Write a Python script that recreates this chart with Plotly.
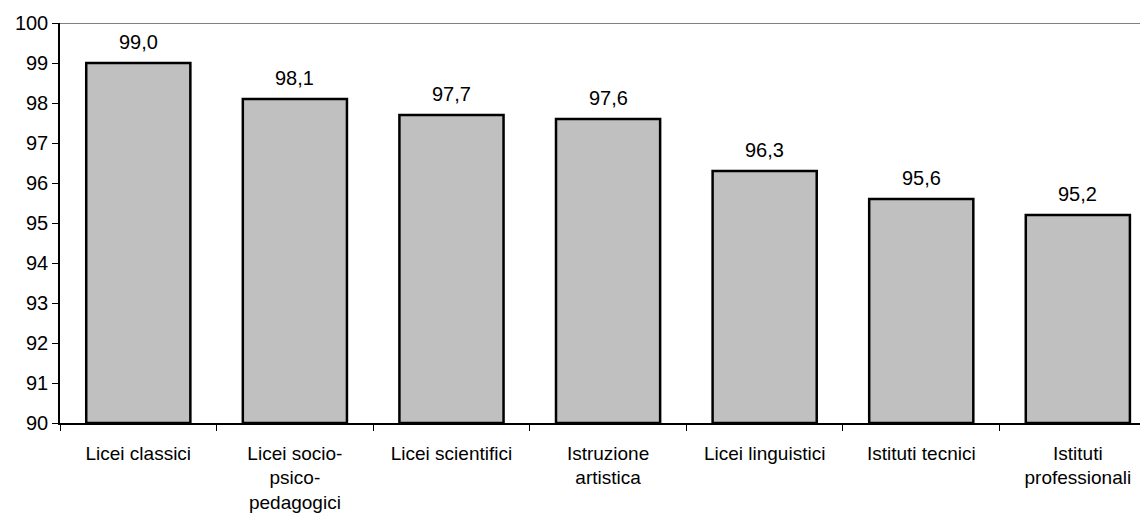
import plotly.graph_objects as go

categories = ["Licei classici", "Licei socio-<br>psico-<br>pedagogici", "Licei scientifici",
              "Istruzione<br>artistica", "Licei linguistici", "Istituti tecnici",
              "Istituti<br>professionali"]
values = [99.0, 98.1, 97.7, 97.6, 96.3, 95.6, 95.2]
y_ticks = list(range(90, 101))
base_value = 90

fig = go.Figure()
fig.add_trace(go.Bar(
    x=categories, y=[v - base_value for v in values], base=base_value, width=0.665,
    marker=dict(color="#C0C0C0", line=dict(color="black", width=2.5)),
    hoverinfo="skip",
))

for c, v in zip(categories, values):
    fig.add_annotation(x=c, y=v, text=f"{v:.1f}".replace(".", ","), showarrow=False,
                       yanchor="bottom", yshift=8, font=dict(size=20, color="black"))

fig.add_shape(type="line", xref="paper", yref="y", x0=0, x1=1, y0=100, y1=100,
              line=dict(color="#808080", width=2))

fig.update_layout(
    template="none",
    width=1140, height=512,
    margin=dict(l=52, r=0, t=15, b=97, pad=0),
    plot_bgcolor="white", paper_bgcolor="white",
    font=dict(family="Liberation Sans, Arial, sans-serif", size=20, color="black"),
    showlegend=False,
    xaxis=dict(range=[-0.5, 6.448], tickson="boundaries", ticks="outside", ticklen=6,
               tickcolor="black", showline=True, linecolor="black", linewidth=1.5,
               showgrid=False, tickfont=dict(size=19), ticklabelstandoff=12,
               automargin=False),
    yaxis=dict(range=[90, 100], tickvals=y_ticks, ticks="outside", ticklen=6,
               tickcolor="black", showline=True, linecolor="black", linewidth=1.5,
               showgrid=False, zeroline=False, tickfont=dict(size=20),
               automargin=False),
)
fig.write_html("out.html")
